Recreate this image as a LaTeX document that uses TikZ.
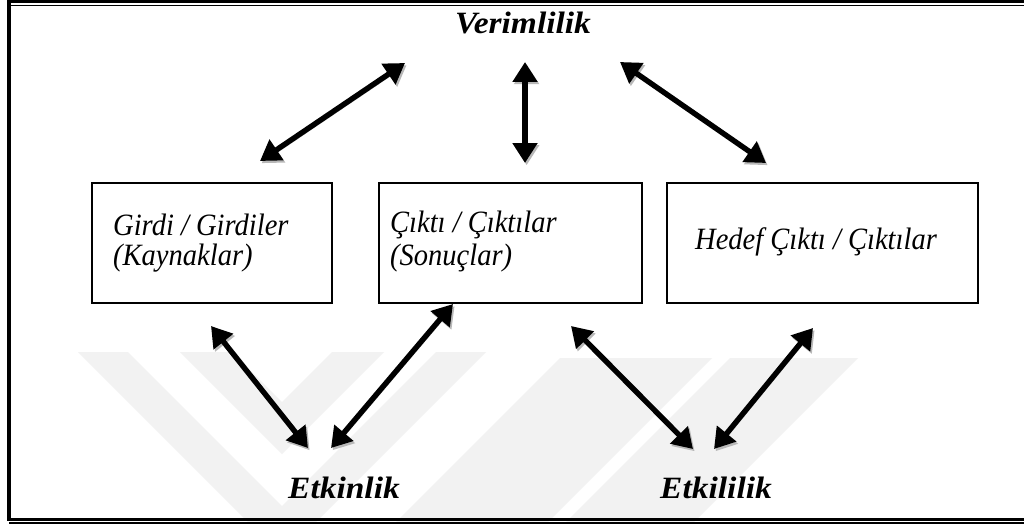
\documentclass[tikz,border=0pt]{standalone}
\usepackage{fontspec}
\setmainfont{Liberation Serif}
\newfontfamily\lblfont[FakeStretch=1.08]{Liberation Serif}
\newfontfamily\boxfont[FakeStretch=0.92]{Liberation Serif}
\usetikzlibrary{arrows.meta}
\begin{document}
\begin{tikzpicture}[x=1pt,y=-1pt,
  box/.style={draw=black,line width=1.2pt,minimum width=#1,minimum height=120pt,inner sep=0pt},
  boxtext/.style={font=\boxfont\fontsize{31}{33}\selectfont\itshape,align=left,anchor=west,inner sep=0pt},
  lbl/.style={font=\lblfont\fontsize{31}{33}\selectfont\bfseries\itshape,inner sep=0pt,anchor=base},
  twoway/.style={{Triangle[length=20pt,width=24pt]}-{Triangle[length=20pt,width=24pt]},line width=5.4pt,
    preaction={draw=black!28,transform canvas={shift={(1.6pt,-2.2pt)}}}},
  wm/.style={fill=black!5,draw=none}]
\useasboundingbox (0,0) rectangle (1024,524);
\fill[white] (0,0) rectangle (1024,524);

% faint background emblem
\fill[wm] (78,352) -- (128,352) -- (282,506) -- (436,352) -- (486,352) -- (314,524) -- (250,524) -- cycle;
\fill[wm] (180,352) -- (232,352) -- (282,402) -- (332,352) -- (384,352) -- (282,454) -- cycle;
\fill[wm] (560,358) -- (712,358) -- (546,524) -- (394,524) -- cycle;
\fill[wm] (730,358) -- (858,358) -- (692,524) -- (564,524) -- cycle;

% double frame
\draw[line width=4pt] (9,1) -- (9,521);
\draw[line width=3pt] (7,2) -- (1024,2);
\draw[line width=1.2pt] (11,5.2) -- (1024,5.2);
\draw[line width=3pt] (7,519.8) -- (1024,519.8);
\draw[line width=1.2pt] (9,523) -- (1024,523);

% boxes
\node[box=240pt] (inp) at (212,243) {};
\node[box=263pt] (out) at (510.5,243) {};
\node[box=311pt] (tgt) at (822.5,243) {};
\node[boxtext] (inpA) at (113,225) {Girdi / Girdiler};
\node[boxtext] (inpB) at (113,258) {(Kaynaklar)};
\node[boxtext] (outA) at (390,225) {Çıktı / Çıktılar};
\node[boxtext] (outB) at (390,258) {(Sonuçlar)};
\node[boxtext] (tgtA) at (695,242) {Hedef Çıktı / Çıktılar};

% concept labels
\node[lbl] (ver) at (523,34) {Verimlilik};
\node[lbl] (etn) at (344,498) {Etkinlik};
\node[lbl] (etl) at (716,498) {Etkililik};

% arrow ends
\coordinate (vA) at (405,63);  \coordinate (iA) at (260,161);
\coordinate (vB) at (525,62);  \coordinate (oB) at (525,163);
\coordinate (vC) at (620,62);  \coordinate (tC) at (766,163);
\coordinate (iD) at (211,326); \coordinate (nD) at (308,448);
\coordinate (nE) at (331,448); \coordinate (oE) at (453,304);
\coordinate (oF) at (571,326); \coordinate (lF) at (693,449);
\coordinate (lG) at (714,449); \coordinate (tG) at (813,328);

\draw[twoway] (vA) -- (iA);
\draw[twoway] (vB) -- (oB);
\draw[twoway] (vC) -- (tC);
\draw[twoway] (iD) -- (nD);
\draw[twoway] (nE) -- (oE);
\draw[twoway] (oF) -- (lF);
\draw[twoway] (lG) -- (tG);
\end{tikzpicture}
\end{document}
